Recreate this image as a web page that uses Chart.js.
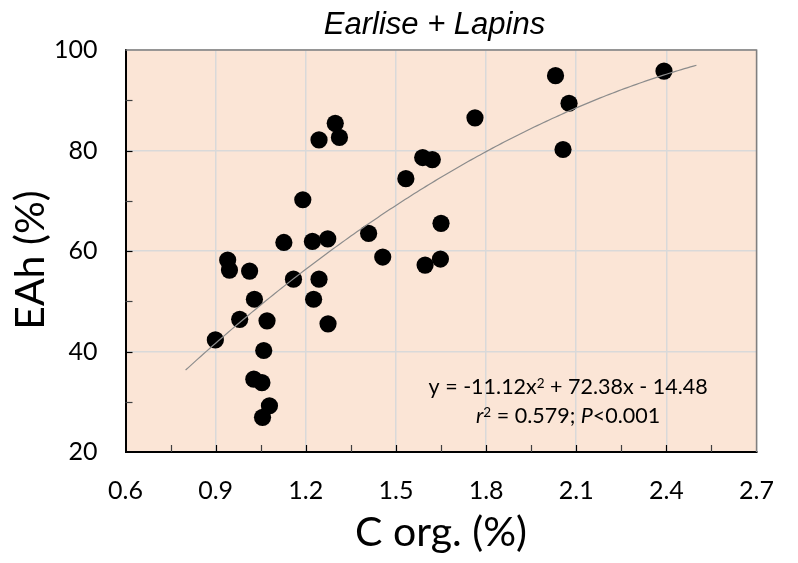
<!DOCTYPE html>
<html>
<head>
<meta charset="utf-8">
<script src="https://cdn.jsdelivr.net/npm/chart.js@4/dist/chart.umd.min.js"></script>
<style>
  html, body { margin: 0; padding: 0; background: #ffffff; }
  #wrap { width: 798px; height: 563px; }
</style>
</head>
<body>
<div id="wrap"><canvas id="chart" width="798" height="563"></canvas></div>
<script>
// ---- chart text ----
const chartTitle = 'Earlise + Lapins';
const xAxisTitle = 'C org. (%)';
const yAxisTitle = 'EAh (%)';

// ---- axis ticks ----
const xTickValues = [0.6, 0.9, 1.2, 1.5, 1.8, 2.1, 2.4, 2.7];
const yTickValues = [20, 40, 60, 80, 100];

// ---- observations: organic carbon (%) vs. EAh (%) ----
const corgValues = [0.899, 0.940, 0.946, 0.980, 1.013, 1.029, 1.027, 1.054, 1.056, 1.060,
                    1.071, 1.079, 1.127, 1.159, 1.190, 1.222, 1.226, 1.244, 1.244, 1.273,
                    1.274, 1.298, 1.312, 1.409, 1.456, 1.533, 1.589, 1.597, 1.621, 1.648,
                    1.650, 1.763, 2.031, 2.056, 2.076, 2.392];
const eahValues  = [42.3, 58.2, 56.2, 46.4, 56.0, 50.4, 34.5, 33.8, 26.9, 40.2,
                    46.1, 29.2, 61.7, 54.4, 70.2, 61.9, 50.4, 54.4, 82.1, 62.4,
                    45.5, 85.4, 82.6, 63.5, 58.8, 74.4, 78.6, 57.2, 78.2, 58.4,
                    65.5, 86.5, 94.9, 80.2, 89.4, 95.8];

// ---- quadratic fit, as printed in the annotation ----
const fitA = -11.12, fitB = 72.38, fitC = -14.48;
const fitFrom = 0.8, fitTo = 2.5;
const fitR2 = '0.579';
const fitP = '0.001';

const scatterPoints = corgValues.map((x, i) => ({ x: x, y: eahValues[i] }));
const fitPoints = [];
for (let k = 0; k <= 170; k++) {
  const x = fitFrom + (fitTo - fitFrom) * k / 170;
  fitPoints.push({ x: x, y: fitA * x * x + fitB * x + fitC });
}

const PLOT_BG = '#FBE5D6';
const GRID = '#D9D9D9';
const FRAME = '#7F7F7F';
const SANS = 'Lato, "Open Sans", sans-serif';

// plot background, drawn before the grid
const plotBackground = {
  id: 'plotBackground',
  beforeDraw(chart) {
    const { ctx, chartArea: a } = chart;
    ctx.save();
    ctx.fillStyle = PLOT_BG;
    ctx.fillRect(a.left, a.top, a.right - a.left, a.bottom - a.top);
    ctx.restore();
  }
};

// top/right frame and the inward tick marks
const frameAndTicks = {
  id: 'frameAndTicks',
  beforeDatasetsDraw(chart) {
    const { ctx, chartArea: a, scales } = chart;
    ctx.save();
    ctx.strokeStyle = FRAME;
    ctx.lineWidth = 1.5;
    ctx.beginPath();
    ctx.moveTo(a.left, a.top);
    ctx.lineTo(a.right, a.top);
    ctx.lineTo(a.right, a.bottom);
    ctx.stroke();

    ctx.lineWidth = 1.2;
    const len = 7;
    // y ticks every 10
    for (let v = 30; v < 100; v += 10) {
      const py = Math.round(scales.y.getPixelForValue(v)) + 0.5;
      ctx.strokeStyle = (v % 20 === 0) ? '#000000' : '#404040';
      ctx.beginPath();
      ctx.moveTo(a.left, py);
      ctx.lineTo(a.left + len, py);
      ctx.stroke();
    }
    // x ticks every 0.15
    for (let k = 1; k < 14; k++) {
      const v = 0.6 + 0.15 * k;
      const px = Math.round(scales.x.getPixelForValue(v)) + 0.5;
      ctx.strokeStyle = (k % 2 === 0) ? '#000000' : '#404040';
      ctx.beginPath();
      ctx.moveTo(px, a.bottom);
      ctx.lineTo(px, a.bottom - len);
      ctx.stroke();
    }
    ctx.restore();
  }
};

// chart title, y-axis title and the fit equation
function drawRuns(ctx, runs, cx, baseline) {
  let total = 0;
  runs.forEach(r => { ctx.font = r.font; r.w = ctx.measureText(r.text).width; total += r.w; });
  let x = cx - total / 2;
  runs.forEach(r => {
    ctx.font = r.font;
    ctx.fillText(r.text, x, baseline - (r.raise || 0));
    x += r.w;
  });
}

const textLayer = {
  id: 'textLayer',
  afterDraw(chart) {
    const { ctx, scales } = chart;
    ctx.save();
    ctx.fillStyle = '#000000';
    ctx.textBaseline = 'alphabetic';
    ctx.textAlign = 'left';

    // title
    ctx.font = 'italic 31px "Liberation Sans", Arial, sans-serif';
    const tw = ctx.measureText(chartTitle).width;
    ctx.fillText(chartTitle, 434.5 - tw / 2, 34);

    // y-axis title, rotated
    ctx.save();
    ctx.translate(31, 260);
    ctx.rotate(-Math.PI / 2);
    ctx.font = '41px ' + SANS;
    ctx.textAlign = 'center';
    ctx.textBaseline = 'middle';
    ctx.fillText(yAxisTitle, 0, 0);
    ctx.restore();

    // equation, anchored in data space
    const cx = scales.x.getPixelForValue(2.073);
    const b1 = scales.y.getPixelForValue(31.5);
    const b2 = scales.y.getPixelForValue(25.7);
    const f = '21.5px ' + SANS;
    const fi = 'italic 21.5px ' + SANS;
    const fs = '13.5px ' + SANS;
    const sign = fitC < 0 ? ' - ' : ' + ';
    drawRuns(ctx, [
      { text: 'y = ' + fitA.toFixed(2) + 'x', font: f },
      { text: '2', font: fs, raise: 6.5 },
      { text: ' + ' + fitB.toFixed(2) + 'x' + sign + Math.abs(fitC).toFixed(2), font: f }
    ], cx, b1);
    drawRuns(ctx, [
      { text: 'r', font: fi },
      { text: '2', font: fs, raise: 6.5 },
      { text: ' = ' + fitR2 + '; ', font: f },
      { text: 'P', font: fi },
      { text: '<' + fitP, font: f }
    ], cx, b2);
    ctx.restore();
  }
};

new Chart(document.getElementById('chart'), {
  type: 'scatter',
  data: {
    datasets: [
      {
        type: 'line',
        label: 'fit',
        data: fitPoints,
        borderColor: '#8C8C8C',
        borderWidth: 1.2,
        pointRadius: 0,
        fill: false,
        tension: 0,
        order: 0
      },
      {
        label: 'EAh',
        data: scatterPoints,
        backgroundColor: '#000000',
        borderWidth: 0,
        pointRadius: 8.6,
        pointHoverRadius: 8.6,
        order: 1
      }
    ]
  },
  options: {
    responsive: false,
    animation: false,
    layout: { padding: { top: 50, right: 27, bottom: 0, left: 0 } },
    plugins: {
      legend: { display: false },
      tooltip: { enabled: false },
      title: { display: false }
    },
    scales: {
      x: {
        type: 'linear',
        min: 0.6,
        max: 2.7,
        afterBuildTicks: s => { s.ticks = xTickValues.map(v => ({ value: v })); },
        afterFit: s => { s.height = 111; },
        ticks: {
          callback: v => Number(v).toFixed(1),
          font: { family: SANS, size: 25 },
          color: '#000000',
          padding: 24,
          maxRotation: 0,
          autoSkip: false
        },
        grid: { color: GRID, lineWidth: 1.5, drawTicks: false },
        border: { color: '#000000', width: 2 },
        title: {
          display: true,
          text: xAxisTitle,
          font: { family: SANS, size: 41 },
          color: '#000000',
          padding: { top: 0, bottom: 6 }
        }
      },
      y: {
        type: 'linear',
        min: 20,
        max: 100,
        afterBuildTicks: s => { s.ticks = yTickValues.map(v => ({ value: v })); },
        afterFit: s => { s.width = 125.5; },
        ticks: {
          font: { family: SANS, size: 25 },
          color: '#000000',
          padding: 28
        },
        grid: { color: GRID, lineWidth: 1.5, drawTicks: false },
        border: { color: '#000000', width: 2 },
        title: { display: false }
      }
    }
  },
  plugins: [plotBackground, frameAndTicks, textLayer]
});
</script>
</body>
</html>
